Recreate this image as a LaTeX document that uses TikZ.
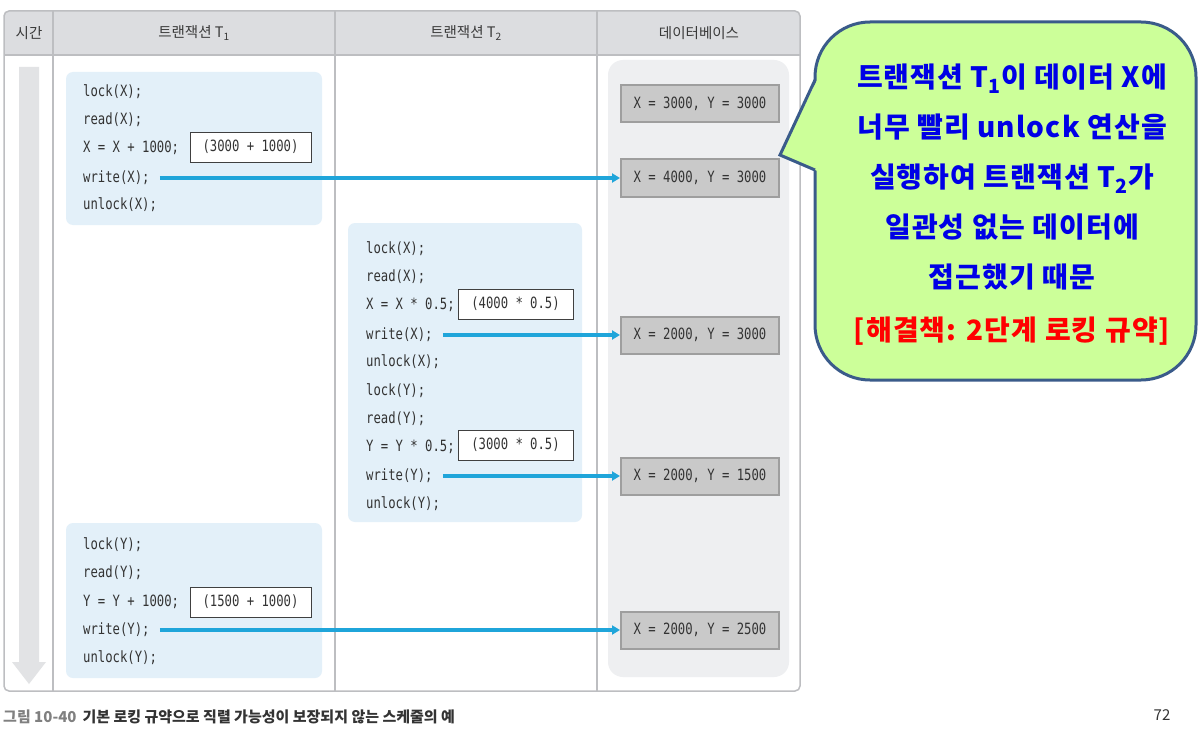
\documentclass[tikz,border=0pt]{standalone}
\usepackage{fontspec}
\setmainfont{Noto Sans CJK KR}
\setmonofont[FakeStretch=0.79]{DejaVu Sans Mono}
\usetikzlibrary{arrows.meta, positioning, calc}

\definecolor{hdrgray}{HTML}{DCDDE0}
\definecolor{rulegray}{HTML}{BDBEC1}
\definecolor{hdrtext}{HTML}{3A3A3A}
\definecolor{codetext}{HTML}{333333}
\definecolor{blockblue}{HTML}{E3F0F9}
\definecolor{dbbg}{HTML}{EEEFF1}
\definecolor{dbfill}{HTML}{C9C9C9}
\definecolor{dbedge}{HTML}{9E9E9E}
\definecolor{timegray}{HTML}{E2E3E5}
\definecolor{writeblue}{HTML}{1FA5DA}
\definecolor{calloutfill}{HTML}{CCFF99}
\definecolor{calloutedge}{HTML}{3A5B8A}
\definecolor{calloutblue}{HTML}{0000E6}
\definecolor{calloutred}{HTML}{FF0000}
\definecolor{capgray}{HTML}{808080}
\definecolor{captext}{HTML}{333333}

\tikzset{
  hdr/.style={font=\fontsize{14.5}{14.5}\selectfont, text=hdrtext},
  code/.style={anchor=west, inner sep=0pt, text=codetext,
               font=\ttfamily\fontsize{15.5}{15.5}\selectfont},
  valbox/.style={draw=black!75, fill=white, line width=0.8pt,
                 minimum width=121pt, minimum height=30pt, inner sep=0pt,
                 text=codetext, font=\ttfamily\fontsize{15.5}{15.5}\selectfont},
  dbbox/.style={draw=dbedge, fill=dbfill, line width=2pt,
                minimum width=158pt, minimum height=37pt, inner sep=0pt,
                text=codetext, font=\ttfamily\fontsize{15.5}{15.5}\selectfont},
  block/.style={fill=blockblue, rounded corners=7pt},
  writearrow/.style={-{Triangle[length=8pt, width=9pt]}, draw=writeblue,
                     line width=3.2pt, shorten <=10pt}
}

\begin{document}
\begin{tikzpicture}[x=1pt, y=-1pt]
  \useasboundingbox (0,0) rectangle (1198,730);

  % table frame and header row
  \fill[white, rounded corners=5pt] (4,11) rectangle (800,691);
  \fill[hdrgray, rounded corners=5pt] (4,11) rectangle (800,55);
  \fill[hdrgray] (4,40) rectangle (800,55);
  \draw[rulegray, line width=1.5pt] (4,55) -- (800,55);
  \foreach \cx in {53,335,597}
    \draw[rulegray, line width=1.5pt] (\cx,11) -- (\cx,691);
  \draw[rulegray, line width=1.5pt, rounded corners=5pt] (4,11) rectangle (800,691);

  \node[hdr] (htime) at (29,33) {시간};
  \node[hdr] (ht1) at (194,33) {트랜잭션 T\textsubscript{1}};
  \node[hdr] (ht2) at (466,33) {트랜잭션 T\textsubscript{2}};
  \node[hdr] (hdb) at (699,33) {데이터베이스};

  % time axis
  \fill[timegray] (19,67) -- (39,67) -- (39,662) -- (46,662) -- (29,684)
    -- (12,662) -- (19,662) -- cycle;

  % transaction blocks and database column
  \fill[block] (66,72) rectangle (322,225);
  \fill[block] (348,223) rectangle (582,522);
  \fill[block] (66,523) rectangle (322,678);
  \fill[dbbg, rounded corners=15pt] (608,60) rectangle (789,677);

  % T1, first part
  \node[code] (t1lx) at (83,92) {lock(X);};
  \node[code] (t1rx) at (83,120) {read(X);};
  \node[code] (t1cx) at (83,148) {X = X + 1000;};
  \node[code] (t1wx) at (83,178) {write(X);};
  \node[code] (t1ux) at (83,205) {unlock(X);};
  \node[valbox] (v1) at (250.5,147) {(3000 + 1000)};

  % T2
  \node[code] (t2lx) at (366,249) {lock(X);};
  \node[code] (t2rx) at (366,277) {read(X);};
  \node[code] (t2cx) at (366,305) {X = X * 0.5;};
  \node[code] (t2wx) at (366,335) {write(X);};
  \node[code] (t2ux) at (366,362) {unlock(X);};
  \node[code] (t2ly) at (366,391) {lock(Y);};
  \node[code] (t2ry) at (366,419) {read(Y);};
  \node[code] (t2cy) at (366,447) {Y = Y * 0.5;};
  \node[code] (t2wy) at (366,476) {write(Y);};
  \node[code] (t2uy) at (366,504) {unlock(Y);};
  \node[valbox, minimum width=115pt] (v2) at (515.5,304) {(4000 * 0.5)};
  \node[valbox, minimum width=115pt] (v3) at (515.5,445) {(3000 * 0.5)};

  % T1, second part
  \node[code] (t1ly) at (83,545) {lock(Y);};
  \node[code] (t1ry) at (83,573) {read(Y);};
  \node[code] (t1cy) at (83,602) {Y = Y + 1000;};
  \node[code] (t1wy) at (83,630) {write(Y);};
  \node[code] (t1uy) at (83,658) {unlock(Y);};
  \node[valbox] (v4) at (250.5,602) {(1500 + 1000)};

  % database states
  \node[dbbox] (db1) at (700,104) {X = 3000, Y = 3000};
  \node[dbbox] (db2) at (700,178) {X = 4000, Y = 3000};
  \node[dbbox] (db3) at (700,335) {X = 2000, Y = 3000};
  \node[dbbox] (db4) at (700,476) {X = 2000, Y = 1500};
  \node[dbbox] (db5) at (700,630) {X = 2000, Y = 2500};

  % writes into the database
  \draw[writearrow] (t1wx.east) -- (t1wx.east -| db2.west);
  \draw[writearrow] (t2wx.east) -- (t2wx.east -| db3.west);
  \draw[writearrow] (t2wy.east) -- (t2wy.east -| db4.west);
  \draw[writearrow] (t1wy.east) -- (t1wy.east -| db5.west);

  % callout
  \draw[calloutedge, fill=calloutfill, line width=3pt, rounded corners=55pt]
    (815,22) rectangle (1196,380);
  \fill[calloutfill] (817.5,79) -- (780,155) -- (817.5,171) -- cycle;
  \draw[calloutedge, line width=3pt, line join=miter] (815,80) -- (780,155) -- (815,170);
  \node[align=center, text=calloutblue,
        font=\bfseries\addfontfeature{LetterSpace=4}\fontsize{28}{50}\selectfont]
    (note) at (1012,205) {트랜잭션 T\textsubscript{1}이 데이터 X에\\
      너무 빨리 unlock 연산을\\
      실행하여 트랜잭션 T\textsubscript{2}가\\
      일관성 없는 데이터에\\
      접근했기 때문\\[3pt]
      \textcolor{calloutred}{[해결책: 2단계 로킹 규약]}};

  % caption and page number
  \node[anchor=west, inner sep=0pt, font=\bfseries\fontsize{15}{15}\selectfont]
    (caption) at (3,717) {\textcolor{capgray}{그림 10-40}\hspace{6pt}\textcolor{captext}{기본 로킹 규약으로 직렬 가능성이 보장되지 않는 스케줄의 예}};
  \node[font=\fontsize{15}{15}\selectfont, text=black!80] (page) at (1162,715) {72};
\end{tikzpicture}
\end{document}
